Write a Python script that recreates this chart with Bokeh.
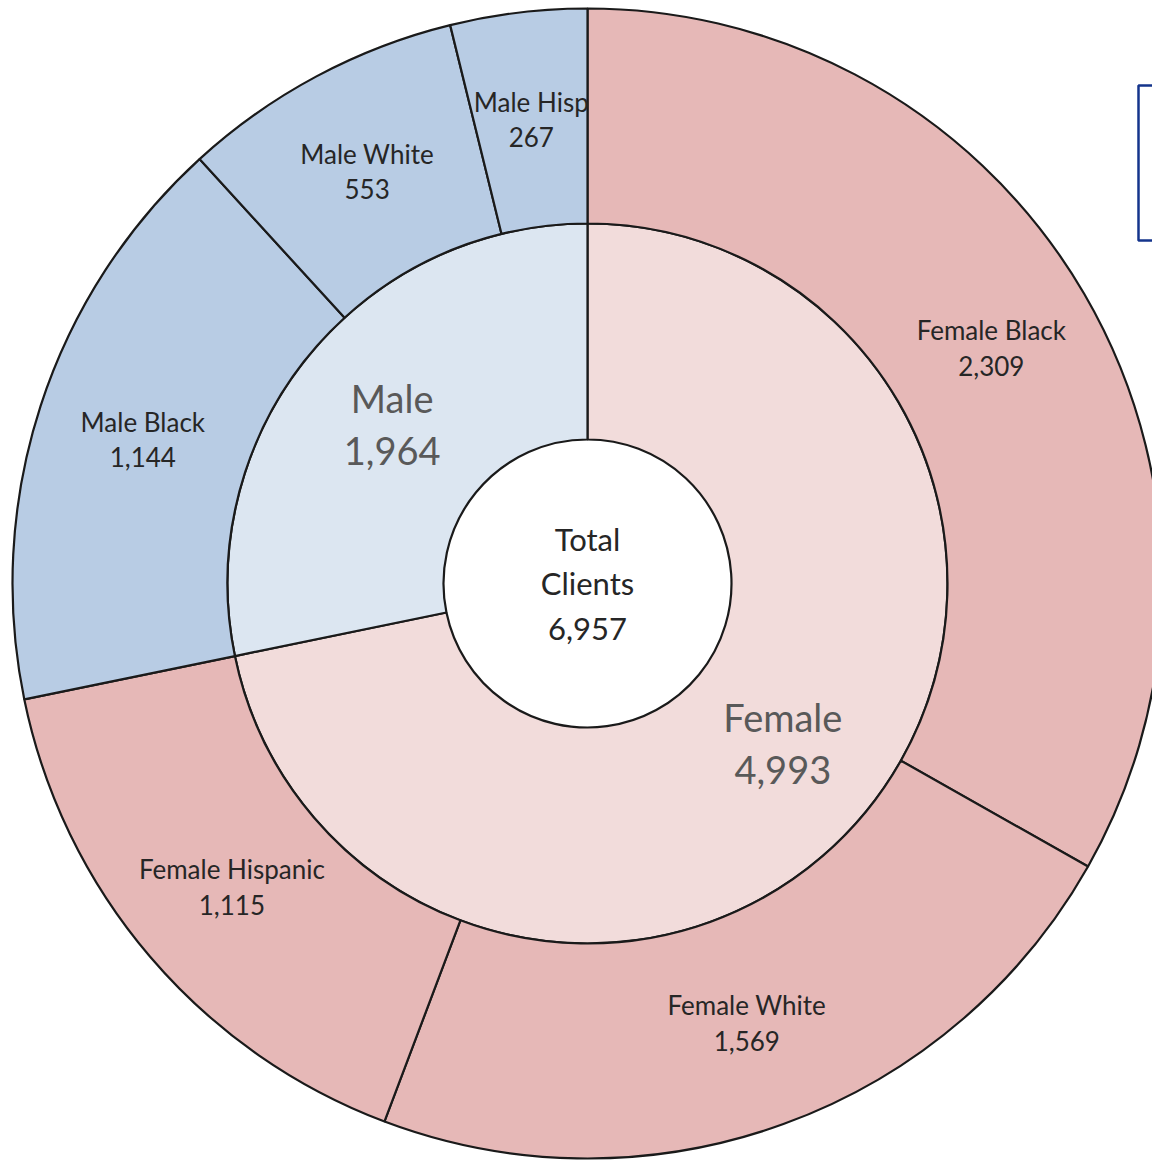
import numpy as np
from bokeh.plotting import figure
from bokeh.models import Range1d, ColumnDataSource
from bokeh.core.properties import value
from bokeh.embed import file_html
from bokeh.resources import INLINE

# ---- data ----
total_label = "Total\nClients"
inner_names = ["Female", "Male"]
inner_values = [4993, 1964]
outer_names = ["Female Black", "Female White", "Female Hispanic", "Male Black", "Male White", "Male Hisp"]
outer_values = [2309, 1569, 1115, 1144, 553, 267]
outer_parent = ["Female", "Female", "Female", "Male", "Male", "Male"]

inner_colors = {"Female": "#F2DCDB", "Male": "#DCE6F1"}
outer_colors = {"Female": "#E6B8B7", "Male": "#B8CCE4"}

W, H = 1152, 1160
CX, CY = 587, 577
R_HOLE, R_MID, R_OUT = 144, 360, 575
FONT = "Lato"

total = sum(inner_values)

def ring(values):
    v = np.array(values, dtype=float)
    cum = np.concatenate([[0], np.cumsum(v)])
    a0 = cum[:-1] / total * 2 * np.pi
    a1 = cum[1:] / total * 2 * np.pi
    start = np.pi / 2 - a1
    end = np.pi / 2 - a0
    mid = (start + end) / 2
    return start, end, mid

p = figure(width=W, height=H, output_backend="svg", toolbar_location=None,
           x_range=Range1d(0, W), y_range=Range1d(0, H), min_border=0)
p.axis.visible = False
p.grid.visible = False
p.outline_line_color = None
p.background_fill_color = "white"

# inner ring
s, e, m = ring(inner_values)
rm = (R_HOLE + R_MID) / 2
src_in = ColumnDataSource(dict(
    start=s, end=e, color=[inner_colors[n] for n in inner_names],
    lx=CX + rm * np.cos(m), ly=CY + rm * np.sin(m),
    label=[f"{n}\n{v:,}" for n, v in zip(inner_names, inner_values)]))
p.annular_wedge(x=CX, y=CY, inner_radius=R_HOLE, outer_radius=R_MID,
                start_angle="start", end_angle="end", fill_color="color",
                line_color="#1a1a1a", line_width=2.2, source=src_in)

# outer ring
s2, e2, m2 = ring(outer_values)
ro = (R_MID + R_OUT) / 2
src_out = ColumnDataSource(dict(
    start=s2, end=e2, color=[outer_colors[g] for g in outer_parent],
    lx=CX + ro * np.cos(m2), ly=CY + ro * np.sin(m2),
    label=[f"{n}\n{v:,}" for n, v in zip(outer_names, outer_values)]))
p.annular_wedge(x=CX, y=CY, inner_radius=R_MID, outer_radius=R_OUT,
                start_angle="start", end_angle="end", fill_color="color",
                line_color="#1a1a1a", line_width=2.2, source=src_out)

# labels
p.text(x="lx", y="ly", text="label", source=src_out, text_align="center",
       text_baseline="middle", text_font=value(FONT), text_font_size="26px",
       text_color="#262626", text_line_height=1.1)
p.text(x="lx", y="ly", text="label", source=src_in, text_align="center",
       text_baseline="middle", text_font=value(FONT), text_font_size="38px",
       text_color="#595959", text_line_height=1.14)
p.text(x=[CX], y=[CY], text=[f"{total_label}\n{total:,}"], text_align="center",
       text_baseline="middle", text_font=value(FONT), text_font_size="31px",
       text_color="#262626", text_line_height=1.18)

# partial legend frame at right edge
p.quad(left=[1138], right=[1220], top=[1075], bottom=[920], fill_color=None,
       line_color="#14348C", line_width=2.5)

open("out.html", "w").write(file_html(p, INLINE))
